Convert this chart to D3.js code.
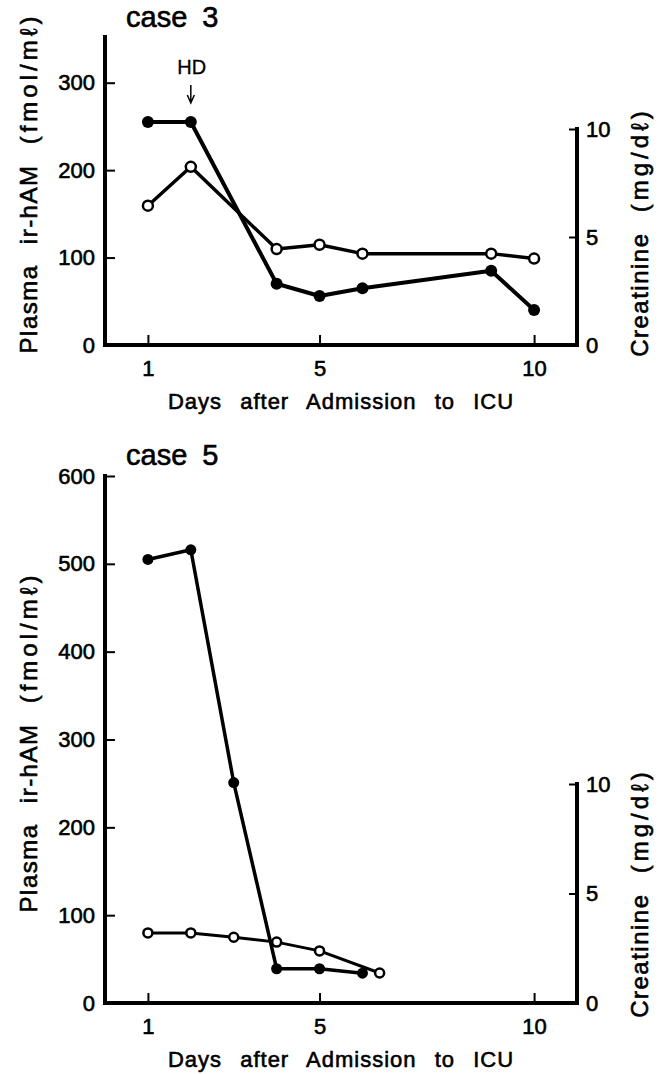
<!DOCTYPE html>
<html>
<head>
<meta charset="utf-8">
<script src="https://cdn.jsdelivr.net/npm/d3@7"></script>
<style>
  body { margin: 0; background: #fff; }
  svg { display: block; font-family: "Liberation Sans", Arial, Helvetica, sans-serif; }
  svg text { fill: #000; stroke: #000; stroke-width: 0.6px; }
</style>
</head>
<body>
<div id="chart"></div>
<script>
// day ticks shared by both panels
const dayTicks = [1, 5, 10];
const crTicks = [0, 5, 10];

// case 3 : plasma ir-hAM (filled) and creatinine (open)
const case3Days = [1, 2, 4, 5, 6, 9, 10];
const case3Ham = [255, 255, 70, 56, 65, 85, 40];
const case3Cr = [6.45, 8.25, 4.44, 4.64, 4.23, 4.23, 4.0];
const case3HamTicks = [0, 100, 200, 300];

// case 5
const case5HamDays = [1, 2, 3, 4, 5, 6];
const case5Ham = [505, 516, 251, 39, 39, 34];
const case5CrDays = [1, 2, 3, 4, 5, 6.4];
const case5Cr = [3.2, 3.2, 3.0, 2.78, 2.38, 1.37];
const case5HamTicks = [0, 100, 200, 300, 400, 500, 600];

const W = 663, H = 1074;
const svg = d3.select("#chart").append("svg")
    .attr("width", W)
    .attr("height", H);

const x = d3.scaleLinear().domain([0, 11]).range([105, 577]);

// rotated axis title, the unit part is spaced out a bit more
function sideLabel(g, tx, ty, name, unit) {
    const t = g.append("text").attr("transform", "translate(" + tx + "," + ty + ") rotate(-90)")
        .attr("text-anchor", "middle").style("font-size", "24px")
        .style("letter-spacing", "1.5px").style("word-spacing", "12px");
    t.append("tspan").text(name + " ");
    t.append("tspan").style("letter-spacing", "4px").text(unit);
}

function panel(p) {
    const g = svg.append("g");
    const yL = d3.scaleLinear().domain([0, p.hamMax]).range([p.bottom, p.hamTop]);
    const yR = d3.scaleLinear().domain([0, 10]).range([p.bottom, p.crTop]);

    // axes (ticks + labels)
    const ax = g.append("g").attr("transform", "translate(0," + p.bottom + ")")
        .call(d3.axisBottom(x).tickValues(dayTicks).tickSizeInner(-10).tickSizeOuter(0).tickPadding(15));
    const al = g.append("g").attr("transform", "translate(" + x(0) + ",0)")
        .call(d3.axisLeft(yL).tickValues(p.hamTicks).tickSizeInner(-10).tickSizeOuter(0).tickPadding(10));
    const ar = g.append("g").attr("transform", "translate(" + x(11) + ",0)")
        .call(d3.axisRight(yR).tickValues(crTicks).tickSizeInner(-8).tickSizeOuter(0).tickPadding(9));
    [ax, al, ar].forEach(a => {
        a.select(".domain").remove();
        a.selectAll(".tick line").attr("stroke", "#000").attr("stroke-width", 2);
        a.selectAll(".tick text").attr("fill", "#000").style("font-size", "22px")
            .style("font-family", "'Liberation Sans', Arial, sans-serif");
    });
    ax.selectAll(".tick line").attr("y1", -1);

    // thick axis lines
    const frame = g.append("g").attr("stroke", "#000").attr("stroke-width", 4)
        .attr("stroke-linecap", "square").attr("fill", "none");
    frame.append("line").attr("x1", x(0)).attr("x2", x(0))
        .attr("y1", p.bottom).attr("y2", p.axisTop);
    frame.append("line").attr("x1", x(0)).attr("x2", x(11))
        .attr("y1", p.bottom).attr("y2", p.bottom);
    frame.append("line").attr("x1", x(11)).attr("x2", x(11))
        .attr("y1", p.bottom).attr("y2", yR(10));

    // series
    const line = d3.line();
    const hamPts = p.hamDays.map((d, i) => [x(d), yL(p.ham[i])]);
    const crPts = p.crDays.map((d, i) => [x(d), yR(p.cr[i])]);

    g.append("path").attr("d", line(crPts)).attr("fill", "none")
        .attr("stroke", "#000").attr("stroke-width", p.lw - 0.5).attr("stroke-linejoin", "round");
    g.append("path").attr("d", line(hamPts)).attr("fill", "none")
        .attr("stroke", "#000").attr("stroke-width", p.lw).attr("stroke-linejoin", "round");

    g.selectAll(".ham").data(hamPts).enter().append("circle")
        .attr("cx", d => d[0]).attr("cy", d => d[1]).attr("r", p.rf).attr("fill", "#000");
    g.selectAll(".cr").data(crPts).enter().append("circle")
        .attr("cx", d => d[0]).attr("cy", d => d[1]).attr("r", p.ro)
        .attr("fill", "#fff").attr("stroke", "#000").attr("stroke-width", 2.5);

    // titles
    g.append("text").attr("x", 126).attr("y", p.caseY)
        .style("font-size", "29px").style("word-spacing", "7px").text(p.title);
    g.append("text").attr("x", 341).attr("y", p.bottom + 64)
        .attr("text-anchor", "middle").style("font-size", "22px")
        .style("letter-spacing", "1px").style("word-spacing", "11px")
        .text("Days after Admission to ICU");
    sideLabel(g, 37, p.yLabL, "Plasma ir-hAM", "(fmol/mℓ)");
    sideLabel(g, 648, p.yLabR, "Creatinine", "(mg/dℓ)");
    return { g, yL, yR };
}

const top3 = panel({
    title: "case 3", caseY: 27, bottom: 345, hamMax: 300, hamTop: 82.7, axisTop: 37,
    crTop: 129, hamTicks: case3HamTicks,
    hamDays: case3Days, ham: case3Ham, crDays: case3Days, cr: case3Cr,
    lw: 4, rf: 6, ro: 5, yLabL: 183, yLabR: 232
});

// HD marker at day 2
const hx = x(2);
top3.g.append("text").attr("x", hx + 1).attr("y", 74).attr("text-anchor", "middle")
    .style("font-size", "20px").style("stroke-width", "0.3px").text("HD");
top3.g.append("path")
    .attr("d", "M" + hx + ",85V103M" + (hx - 3.5) + ",95L" + hx + ",103L" + (hx + 3.5) + ",95")
    .attr("fill", "none").attr("stroke", "#000").attr("stroke-width", 1.5);

panel({
    title: "case 5", caseY: 465, bottom: 1003, hamMax: 600, hamTop: 476, axisTop: 476,
    crTop: 784, hamTicks: case5HamTicks,
    hamDays: case5HamDays, ham: case5Ham, crDays: case5CrDays, cr: case5Cr,
    lw: 3.5, rf: 5.5, ro: 4.5, yLabL: 742, yLabR: 893
});
</script>
</body>
</html>
